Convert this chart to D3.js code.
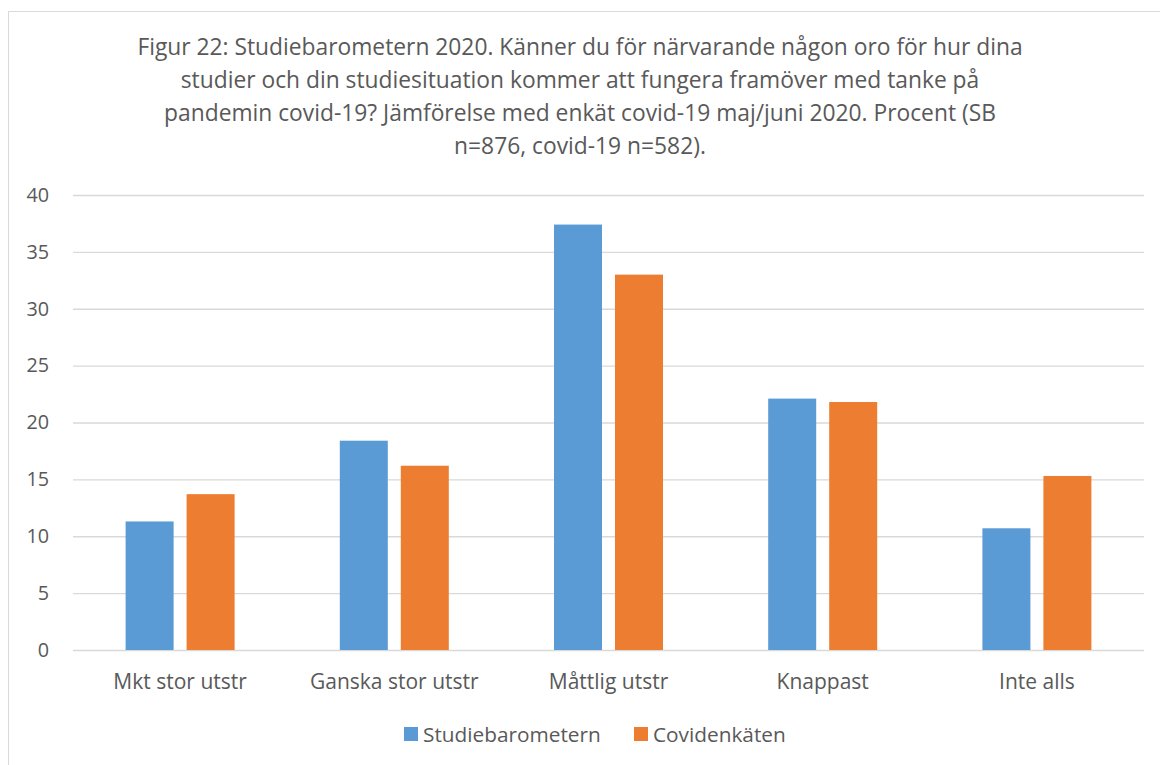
<!DOCTYPE html>
<html>
<head>
<meta charset="utf-8">
<script src="https://cdn.jsdelivr.net/npm/d3@7"></script>
<style>
  body { margin: 0; background: #fff; }
  text { font-family: 'Open Sans', sans-serif; fill: #595959; }
</style>
</head>
<body>
<script>
// data
const categories = ['Mkt stor utstr', 'Ganska stor utstr', 'Måttlig utstr', 'Knappast', 'Inte alls']
const seriesNames = ['Studiebarometern', 'Covidenkäten']
const studiebarometern = [11.3, 18.4, 37.4, 22.1, 10.7]
const covidenkaten = [13.7, 16.2, 33.0, 21.8, 15.3]
const yTicks = [0, 5, 10, 15, 20, 25, 30, 35, 40]
const titleLines = [
  'Figur 22: Studiebarometern 2020. Känner du för närvarande någon oro för hur dina',
  'studier och din studiesituation kommer att fungera framöver med tanke på',
  'pandemin covid-19? Jämförelse med enkät covid-19 maj/juni 2020. Procent (SB',
  'n=876, covid-19 n=582).'
]
const colors = ['#5b9bd5', '#ed7d31']

const width = 1160
const height = 765
const plotLeft = 73
const plotRight = 1144
const plotTop = 195
const plotBottom = 650

const svg = d3.select('body')
  .append('svg')
  .attr('width', width)
  .attr('height', height)

// chart frame
svg.append('rect')
  .attr('x', 8.5)
  .attr('y', 11.5)
  .attr('width', width + 20)
  .attr('height', height + 20)
  .attr('fill', 'none')
  .attr('stroke', '#d9d9d9')
  .attr('stroke-width', 1)

// title
svg.append('g')
  .selectAll('text')
  .data(titleLines)
  .enter()
  .append('text')
  .attr('x', 580)
  .attr('y', function(d, i) { return 55 + i * 33 })
  .attr('text-anchor', 'middle')
  .style('font-size', '22.8px')
  .text(function(d) { return d })

const y = d3.scaleLinear()
  .domain([0, 40])
  .range([plotBottom, plotTop])

const x0 = d3.scaleBand()
  .domain(categories)
  .range([plotLeft, plotRight])
  .padding(0)

const groupWidth = 109
const x1 = d3.scaleBand()
  .domain(seriesNames)
  .range([(x0.bandwidth() - groupWidth) / 2, (x0.bandwidth() + groupWidth) / 2])
  .paddingInner(0.213)

// gridlines
svg.append('g')
  .attr('class', 'grid')
  .attr('transform', 'translate(' + plotLeft + ',0)')
  .call(d3.axisLeft(y).tickValues(yTicks).tickSize(-(plotRight - plotLeft)).tickFormat(''))
  .call(function(g) {
    g.select('.domain').remove()
    g.selectAll('line').attr('stroke', '#d9d9d9').attr('stroke-width', 1.3)
  })

// y labels
svg.append('g')
  .attr('transform', 'translate(' + plotLeft + ',0)')
  .call(d3.axisLeft(y).tickValues(yTicks).tickSize(0).tickPadding(24))
  .call(function(g) {
    g.select('.domain').remove()
    g.selectAll('text').style('font-size', '19.8px').attr('fill', '#595959')
  })

// bars
const rows = categories.map(function(c, i) {
  return { category: c, values: [studiebarometern[i], covidenkaten[i]] }
})

svg.append('g')
  .selectAll('g')
  .data(rows)
  .enter()
  .append('g')
  .attr('transform', function(d) { return 'translate(' + x0(d.category) + ',0)' })
  .selectAll('rect')
  .data(function(d) {
    return d.values.map(function(v, j) { return { name: seriesNames[j], value: v, j: j } })
  })
  .enter()
  .append('rect')
  .attr('x', function(d) { return x1(d.name) })
  .attr('width', x1.bandwidth())
  .attr('y', function(d) { return y(d.value) })
  .attr('height', function(d) { return y(0) - y(d.value) })
  .attr('fill', function(d) { return colors[d.j] })

// category labels
svg.append('g')
  .attr('transform', 'translate(0,' + plotBottom + ')')
  .call(d3.axisBottom(x0).tickSize(0).tickPadding(24))
  .call(function(g) {
    g.select('.domain').remove()
    g.selectAll('text').style('font-size', '21px').attr('fill', '#595959')
  })

// legend
const legendX = [404, 634]
const legend = svg.append('g')
  .selectAll('g')
  .data(seriesNames)
  .enter()
  .append('g')
  .attr('transform', function(d, i) { return 'translate(' + legendX[i] + ',727)' })
legend.append('rect')
  .attr('width', 14)
  .attr('height', 14)
  .attr('fill', function(d, i) { return colors[i] })
legend.append('text')
  .attr('x', 19)
  .attr('y', 14.5)
  .style('font-size', '20.8px')
  .text(function(d) { return d })
</script>
</body>
</html>
